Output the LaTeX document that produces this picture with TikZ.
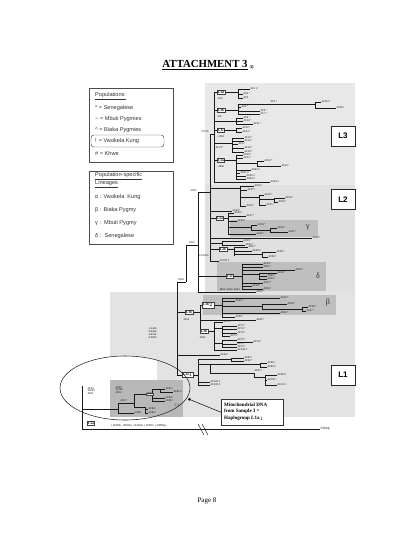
\documentclass[tikz,border=0pt]{standalone}
\usepackage{fontspec}
\setmainfont{Liberation Serif}
\setsansfont{Liberation Sans}
\usetikzlibrary{arrows.meta}
\newcommand\LeafAt[4]{\draw[ln] (#1,#3)--(#2,#3) node[lf]{#4};}
\newcommand\VLine[3]{\draw[ln] (#1,#2)--(#1,#3);}
\newcommand\Tiny[3]{\node[lf] at (#1,#2) {#3};}
\begin{document}
\begin{tikzpicture}[x=1pt,y=-1pt,
  ln/.style={line width=0.45pt, draw=black!90},
  lf/.style={font=\sffamily\fontsize{2.6}{2.8}\selectfont, inner sep=0.3pt, anchor=west, text=black!90},
  cl/.style={draw=black!75, fill=white, line width=0.45pt, inner sep=0.8pt, font=\bfseries\fontsize{3.5}{3.7}\selectfont},
  big/.style={draw=black!85, fill=white, line width=0.6pt, minimum width=24pt, minimum height=20pt, inner sep=0pt, font=\sffamily\bfseries\fontsize{8}{9}\selectfont},
  leg/.style={font=\sffamily\fontsize{5.6}{6.6}\selectfont, anchor=west, inner sep=0pt, text=black!80},
  greek/.style={font=\fontsize{8}{9}\selectfont, text=black!80}
  ]
\useasboundingbox (0,0) rectangle (420,544);
\fill[white] (0,0) rectangle (420,544);

% ---------- title ----------
\node[font=\bfseries\fontsize{10.8}{12}\selectfont, inner sep=0] (title) at (205,65) {\underline{ATTACHMENT 3}};
\node[font=\bfseries\fontsize{4.5}{5}\selectfont, anchor=west, inner sep=0, xshift=2pt, yshift=-2pt] (tnote) at (title.east) {3)};
\node[font=\fontsize{7}{8}\selectfont, inner sep=0] (page) at (207,501) {Page 8};

% ---------- legends ----------
\draw[black!70, line width=0.5pt] (89,88) rectangle (173,162);
\node[leg] (p0) at (95,96) {\underline{Populations:}};
\node[leg] (p1) at (95,108) {* = Senegalese};
\node[leg] (p2) at (95,119) {\textasciitilde\ = Mbuti Pygmies};
\node[leg] (p3) at (95,130) {\textasciicircum\ = Biaka Pygmies};
\node[leg] (p4) at (95,141) {! = Vasikela Kung};
\draw[black!70, rounded corners=3pt, line width=0.45pt] (91,135) rectangle (164,147);
\node[leg] (p5) at (95,153) {\# = Khwe};

\draw[black!70, line width=0.5pt] (89,171) rectangle (173,244);
\node[leg, align=left] (q0) at (95,180) {\underline{Population-specific}\\\underline{Lineages}};
\node[leg] (q1) at (95,197) {α : Vasikela\ \ Kung};
\node[leg] (q2) at (95,210) {β : Biaka Pygmy};
\node[leg] (q3) at (95,223) {γ :\ \ Mbuti Pygmy};
\node[leg] (q4) at (95,236) {δ :\ \ Senegalese};

% ---------- shaded regions ----------
\fill[black!9] (205,83) rectangle (355,185);
\fill[black!12] (205,185) rectangle (355,292);
\fill[black!11] (110,292) rectangle (355,417);
\fill[black!25] (230,220) rectangle (318,237);
\fill[black!25] (217,262) rectangle (326,291);
\fill[black!25] (203,295) rectangle (336,315);
\begin{scope}
  \clip (125,388) ellipse [x radius=65, y radius=32];
  \fill[white] (100,340) rectangle (157,380);
\end{scope}
\fill[black!28] (110,380) rectangle (183,417);

% ---------- L3 ----------
\VLine{210}{134}{261}
\draw[ln] (210,134)--(214,134);
\node[lf, anchor=east] at (209,132) {12705};
\VLine{214}{92}{182}
% L3d
\draw[ln] (214,92)--(238,92);
\VLine{238}{89}{98}
\LeafAt{238}{250}{89}{AF1 \#}
\LeafAt{238}{243}{94}{AF2 *}
\LeafAt{238}{243}{98}{AF3}
\node[cl] (l3d) at (221,92) {L3d};
\Tiny{217}{99}{1/40}
% L3b
\draw[ln] (214,110)--(238,110);
\VLine{238}{104}{114}
\draw[ln] (238,104)--(315,104);
\node[lf] at (270,101.5) {AF5 *};
\VLine{315}{102}{108}
\LeafAt{315}{321}{102}{AF55 \#}
\LeafAt{315}{336}{108}{AF56 !}
\LeafAt{238}{241}{107}{AF4 *}
\LeafAt{238}{260}{111}{AF6 *}
\LeafAt{238}{260}{114}{AF7 *}
\node[cl] (l3b) at (221,110) {L3b};
\Tiny{217}{117}{A/C}
\draw[ln] (214,121)--(236,121);
\VLine{236}{118}{124}
\LeafAt{236}{243}{118}{AF9 *}
\LeafAt{236}{243}{121}{AF10 *}
\LeafAt{236}{253}{124}{AF11 *}
% L3c
\draw[ln] (214,130)--(236,130);
\VLine{236}{128}{133}
\LeafAt{236}{242}{128}{AF12 *}
\LeafAt{236}{242}{132}{AF13 *}
\node[cl] (l3c) at (221,130) {L3c};
\Tiny{217}{137}{-2352}
\draw[ln] (214,143)--(232,143);
\VLine{232}{138}{152}
\LeafAt{232}{244}{138}{AF15 *}
\LeafAt{232}{244}{141}{AF16 *}
\LeafAt{232}{238}{144}{AF17}
\LeafAt{232}{244}{148}{AF18 *}
\LeafAt{232}{244}{152}{AF19 *}
\Tiny{215}{148}{AF14 *}
% L3a
\draw[ln] (214,160)--(236,160);
\VLine{236}{155}{179}
\LeafAt{236}{243}{155}{AF20 *}
\LeafAt{236}{243}{158}{AF21 *}
\draw[ln] (236,163)--(257,163);
\VLine{257}{161}{166}
\LeafAt{257}{264}{161}{AF22 *}
\LeafAt{257}{281}{166}{AF23 *}
\LeafAt{236}{251}{170}{AF80 \#}
\LeafAt{236}{240}{173}{AF81 \#}
\LeafAt{236}{246}{176}{AF82 \#}
\LeafAt{236}{246}{179}{AF83 \#}
\node[cl] (l3a) at (221,160) {L3a};
\Tiny{217}{167}{-4950}
\LeafAt{214}{270}{182}{AF94 \#}
\node[big] (L3) at (343,136) {L3};

% ---------- L2 ----------
\draw[ln] (210,188)--(240,188);
\VLine{240}{186}{206}
\LeafAt{240}{254}{186}{AF26 *}
\LeafAt{240}{247}{190}{AF27 *}
\draw[ln] (240,197)--(259,197);
\VLine{259}{195}{205}
\LeafAt{259}{264}{195}{AF24 *}
\draw[ln] (259,199)--(274,199);
\VLine{274}{198}{202}
\LeafAt{274}{285}{198}{AF29 *}
\LeafAt{274}{278}{202}{AF30 *}
\LeafAt{259}{266}{205}{AF31 *}
\LeafAt{240}{246}{206}{AF32 *}
\LeafAt{210}{232}{211}{AF33 *}
% L2a
\draw[ln] (210,218)--(228,218);
\VLine{228}{213}{234}
\LeafAt{228}{234}{213}{AF36 *}
\LeafAt{228}{246}{216}{AF37 *}
\LeafAt{228}{237}{221}{AF38 *}
\draw[ln] (228,227)--(251,227);
\VLine{251}{225}{230}
\LeafAt{251}{257}{225}{AF39 *}
\draw[ln] (251,230)--(270,230);
\VLine{270}{228}{232}
\LeafAt{270}{277}{228}{AF40 *}
\LeafAt{270}{288}{232}{AF41 *}
\LeafAt{228}{256}{234}{AF42 *}
\node[cl] (l2a) at (220,218) {L2a};
\node[greek] (gam) at (308,228) {γ};
\LeafAt{210}{312}{238}{AF44 *}
\draw[ln] (210,243)--(222,243);
\VLine{222}{241}{245}
\LeafAt{222}{243}{241}{AF45 *}
\LeafAt{222}{245}{245}{AF46 *}
% L2b
\draw[ln] (210,249)--(234,249);
\VLine{234}{247}{256}
\LeafAt{234}{248}{247}{AF47 *}
\LeafAt{234}{252}{251}{AF48 \#}
\draw[ln] (234,254)--(262,254);
\VLine{262}{252}{257}
\LeafAt{262}{276}{252}{AF49 *}
\LeafAt{262}{268}{257}{AF50 !}
\node[cl] (l2b) at (223,249) {L2b};
\node[lf, anchor=east] at (209,256) {4.2/1505};
\LeafAt{210}{219}{261}{AF103 \#}
\node[big] (L2) at (343,199.5) {L2};

% ladder
\VLine{198}{192}{292}
\draw[ln] (198,192)--(210,192);
\node[lf, anchor=east] at (197,191) {4000};
% L2c (delta)
\draw[ln] (198,276)--(242,276);
\VLine{242}{264}{289}
\LeafAt{242}{263}{264}{AF53 *}
\LeafAt{242}{263}{267}{AF51 *}
\LeafAt{242}{295}{270}{AF52 *}
\draw[ln] (242,274)--(259,274);
\VLine{259}{273}{279}
\LeafAt{259}{277}{273}{AF54 *}
\LeafAt{259}{267}{276}{AF55 *}
\LeafAt{259}{267}{279}{AF56 *}
\LeafAt{242}{263}{283}{AF57 *}
\LeafAt{242}{252}{286}{AF58 *}
\LeafAt{242}{263}{289}{AF59 *}
\node[cl] (l2c) at (230,276) {L2c};
\Tiny{219}{289.5}{4800\ \ 5090\ \ 9000}
\node[greek] (del) at (318,276) {δ};
\LeafAt{198}{256}{292}{AF61 *}

\VLine{186}{245}{282}
\draw[ln] (186,245)--(198,245);
\node[lf, anchor=south] at (192,244.5) {5231};
\VLine{177}{282}{375}
\draw[ln] (177,282)--(186,282);
\node[lf, anchor=south] at (181,281.5) {3594};

% ---------- L1b ----------
\draw[ln] (177,312)--(200,312);
\VLine{200}{305}{331}
\draw[ln] (200,305)--(222,305);
\VLine{222}{298}{317}
\LeafAt{222}{280}{298}{AF62 *}
\LeafAt{222}{235}{301}{AF63 *}
\draw[ln] (222,306)--(262,306);
\VLine{262}{304}{310}
\LeafAt{262}{287}{304}{AF65 *}
\draw[ln] (262,309)--(302,309);
\VLine{302}{307}{311}
\LeafAt{302}{308}{307}{AF64 *}
\LeafAt{302}{306}{311}{AF67 *}
\LeafAt{222}{280}{313}{AF66 *}
\LeafAt{222}{235}{317}{AF69 *}
\node[cl] (l1b2) at (208,305) {L1b$_2$};
\node[greek] (bet) at (328,303) {β};
\LeafAt{200}{256}{320}{AF60 *}
\node[cl] (l1b) at (189,312) {L1b};
\Tiny{183}{319.5}{2352}
\draw[ln] (200,331)--(214,331);
\VLine{214}{322}{350}
\LeafAt{214}{223}{322}{AF70 *}
\draw[ln] (214,328)--(222,328);
\VLine{222}{326}{336}
\LeafAt{222}{237}{326}{AF72 *}
\LeafAt{222}{237}{329}{AF74 *}
\LeafAt{222}{237}{333}{AF75 *}
\LeafAt{222}{230}{336}{AF71 *}
\draw[ln] (214,343)--(222,343);
\VLine{222}{340}{347}
\LeafAt{222}{237}{340}{AF76 *}
\LeafAt{222}{237}{344}{AF77 *}
\LeafAt{237}{253}{342}{AF78 *}
\LeafAt{222}{237}{347}{AF79 *}
\LeafAt{214}{237}{350}{AF104 \#}
\node[cl] (l1bb) at (204,331) {L1b};
\Tiny{199}{338}{1000}
\node[lf, align=left] at (148,333) {1-4444\\4-6466\\4-8116\\9-5590};

% ---------- L1a ----------
\LeafAt{177}{220}{355}{AF28 *}
\draw[ln] (177,375)--(198,375);
\VLine{198}{359}{385}
\draw[ln] (198,359)--(231,359);
\VLine{231}{358}{361}
\LeafAt{231}{244}{358}{AF90 *}
\LeafAt{231}{244}{361}{AF91 *}
\draw[ln] (198,364)--(210,364);
\VLine{210}{364}{373}
\draw[ln] (210,364)--(260,364);
\VLine{260}{363}{367}
\LeafAt{260}{267}{363}{AF96 !}
\LeafAt{260}{267}{367}{AF99 \#}
\draw[ln] (210,373)--(254,373);
\node[lf] at (254,371) {AF97 !};
\draw[ln] (254,373)--(254,377)--(265,377);
\VLine{265}{375}{385}
\LeafAt{265}{277}{375}{AF98 \#}
\LeafAt{265}{267}{380}{AF100 !}
\LeafAt{265}{277}{385}{AF101 !}
\LeafAt{198}{210}{382}{AF102 \#}
\LeafAt{198}{210}{385}{AF105 \#}
\node[cl] (l1a1) at (188,375) {L1a$_1$};
\node[big] (L1) at (343,375) {L1};

% ---------- C1 (inside ellipse) ----------
\VLine{82}{386}{429}
\draw[ln] (82,409)--(118,409);
\VLine{118}{403}{413}
\draw[ln] (118,403)--(134,403);
\node[lf] at (120,401) {AF87};
\VLine{134}{394}{407}
\draw[ln] (134,394)--(152,394);
\VLine{152}{389}{401}
\LeafAt{152}{165}{389}{AF81 !}
\draw[ln] (160,389)--(160,392)--(173,392) node[lf]{AF82 \#};
\LeafAt{152}{165}{398}{AF84 !}
\LeafAt{152}{165}{401}{AF85 !}
\node[lf, draw=black!70, fill=black!12] at (146,394) {AF83};
\draw[ln] (134,407)--(145,407);
\VLine{145}{407}{413}
\LeafAt{145}{148}{409}{AF89 !}
\LeafAt{145}{148}{413}{AF86 !}
\LeafAt{118}{134}{413}{AF88}
\node[lf, align=left] at (115,390) {AF92\\12396\\A001};
\node[lf, align=left] at (87,391) {AF93\\10086\\4294};
\node[font=\fontsize{4}{5}\selectfont, text=black!80] (c1) at (177,405) {C1};
\draw[black!85, line width=0.55pt] (125,388) ellipse [x radius=65, y radius=32];

% ---------- root ----------
\draw[ln] (82,429)--(320,429) node[lf, font=\sffamily\fontsize{3.2}{3.5}\selectfont]{Chimp};
\draw[ln] (198,424)--(204,435);
\draw[ln] (202,424)--(208,435);
\node[lf, font=\sffamily\fontsize{2.8}{3}\selectfont] at (110,425.5) {+ 2092b; +3594c; +4104a; +7256c; +13650g};
\node[cl] (l1a) at (91,423) {L1a};

% ---------- callout ----------
\node[draw=black!80, fill=white, line width=0.5pt, minimum width=62pt, minimum height=26pt, anchor=north west, inner sep=0pt] (call) at (221,399) {};
\node[font=\bfseries\fontsize{5}{6.5}\selectfont, align=left, anchor=west, inner sep=0pt] at (224,412) {Mitochondrial DNA\\from Sample 3 =\\Haplogroup L1a$_1$};
\coordinate (tip) at (188.5,399);
\draw[line width=0.5pt, -{Square[length=2pt,width=2pt]}] (call.west) -- (tip);
\end{tikzpicture}
\end{document}
